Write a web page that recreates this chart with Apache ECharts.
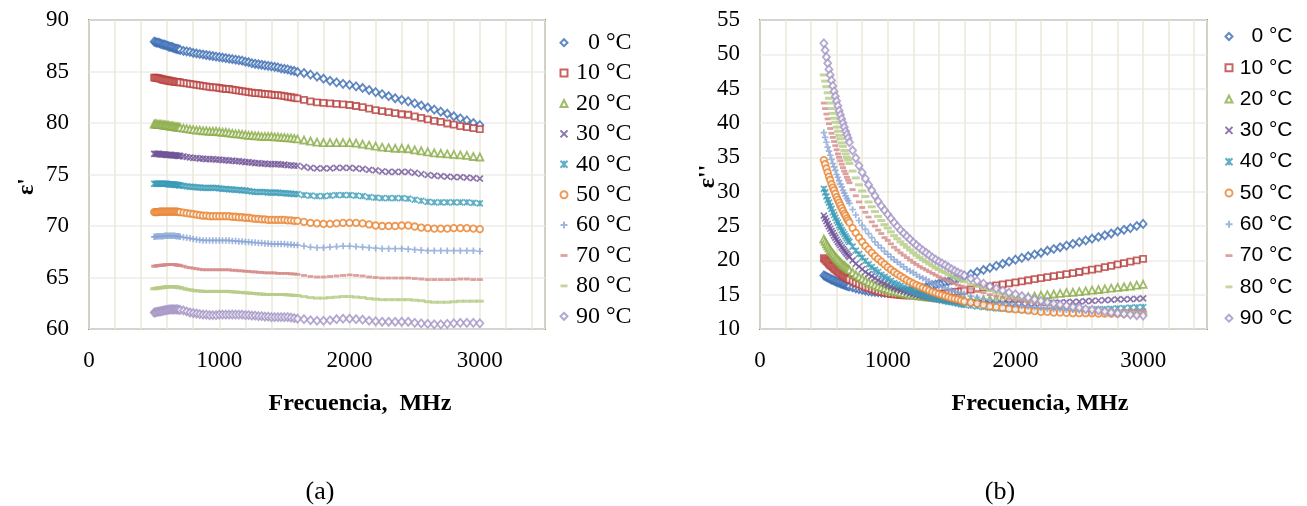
<!DOCTYPE html>
<html><head><meta charset="utf-8">
<script src="https://cdn.jsdelivr.net/npm/echarts@6/dist/echarts.min.js"></script>
<style>
html,body{margin:0;padding:0;background:#fff;width:1307px;height:506px;overflow:hidden}
#a{position:absolute;left:0;top:0;width:654px;height:506px}
#b{position:absolute;left:653px;top:0;width:654px;height:506px}
</style>
</head><body><div id="a"></div><div id="b"></div>
<script>
const freq = [500,510,520,530,540,550,560,570,580,590,600,610,620,630,640,650,660,670,680,690,700,
  725,750,775,800,825,850,875,900,925,950,975,1000,
  1025,1050,1075,1100,1125,1150,1175,1200,1225,1250,1275,1300,1325,1350,1375,1400,1425,1450,1475,1500,1525,1550,1575,1600,
  1650,1700,1750,1800,1850,1900,1950,2000,
  2050,2100,2150,2200,2250,2300,2350,2400,2450,2500,
  2550,2600,2650,2700,2750,2800,2850,2900,2950,3000];

const seriesNames = ['0 °C','10 °C','20 °C','30 °C','40 °C','50 °C','60 °C','70 °C','80 °C','90 °C'];
const xTicks = [0,1000,2000,3000];

// (a) ε'
const real0C = [87.9,87.85,87.8,87.8,87.75,87.7,87.65,87.6,87.6,87.55,87.5,87.45,87.4,87.4,87.35,87.3,87.25,87.2,87.2,87.15,87.1, 87.0,86.95,86.9,86.8,86.75,86.7,86.65,86.6,86.55,86.5,86.45,86.4,
  86.35,86.3,86.25,86.2,86.15,86.1,86.05,85.95,85.9,85.8,85.75,85.7,85.65,85.6,85.55,85.5,85.45,85.4,85.3,85.25,85.2,85.1,85.05,84.95,
  84.85,84.7,84.5,84.3,84.1,83.95,83.8,83.7, 83.55,83.4,83.2,83.0,82.8,82.6,82.4,82.25,82.1,81.9, 81.7,81.5,81.3,81.1,80.9,80.65,80.45,80.25,80.0,79.8];
const real10C = [84.4,84.4,84.35,84.35,84.3,84.3,84.25,84.2,84.2,84.15,84.15,84.1,84.1,84.05,84.05,84.05,84.0,84.0,84.0,83.95,83.95, 83.9,83.85,83.8,83.75,83.7,83.65,83.6,83.55,83.5,83.45,83.45,83.4,
  83.35,83.3,83.3,83.25,83.2,83.15,83.1,83.05,83.0,82.95,82.9,82.9,82.85,82.8,82.8,82.75,82.7,82.7,82.65,82.6,82.55,82.5,82.45,82.4,
  82.25,82.1,82.0,81.95,81.9,81.85,81.8,81.75, 81.65,81.55,81.4,81.25,81.15,81.05,80.95,80.85,80.8,80.65, 80.5,80.35,80.2,80.1,79.95,79.85,79.7,79.6,79.5,79.4];
const real20C = [79.9,79.9,79.9,79.85,79.85,79.85,79.85,79.8,79.8,79.8,79.75,79.75,79.7,79.7,79.7,79.65,79.65,79.6,79.6,79.6,79.55, 79.5,79.45,79.4,79.35,79.3,79.3,79.25,79.25,79.2,79.2,79.2,79.15,
  79.1,79.1,79.05,79.0,78.95,78.95,78.9,78.85,78.8,78.8,78.75,78.75,78.7,78.7,78.7,78.7,78.65,78.65,78.6,78.6,78.55,78.55,78.5,78.45,
  78.35,78.25,78.15,78.1,78.1,78.1,78.1,78.1, 78.05,77.95,77.85,77.75,77.65,77.6,77.55,77.55,77.5,77.4, 77.3,77.2,77.1,77.05,77.0,76.95,76.9,76.85,76.75,76.7];
const real30C = [77.0,77.0,77.0,77.0,77.0,76.95,76.95,76.95,76.95,76.9,76.9,76.9,76.9,76.9,76.85,76.85,76.85,76.85,76.8,76.8,76.8, 76.75,76.7,76.65,76.6,76.6,76.55,76.55,76.5,76.5,76.5,76.45,76.45,
  76.4,76.4,76.35,76.35,76.3,76.3,76.25,76.2,76.2,76.15,76.1,76.1,76.05,76.05,76.0,76.0,76.0,76.0,75.95,75.95,75.9,75.9,75.85,75.85,
  75.75,75.65,75.6,75.6,75.6,75.65,75.65,75.65, 75.6,75.55,75.45,75.4,75.3,75.25,75.25,75.25,75.25,75.15, 75.05,74.95,74.9,74.85,74.8,74.75,74.75,74.7,74.65,74.6];
const real40C = [74.1,74.1,74.1,74.1,74.1,74.1,74.1,74.1,74.1,74.1,74.1,74.05,74.05,74.05,74.05,74.05,74.0,74.0,74.0,73.95,73.95, 73.9,73.85,73.8,73.8,73.75,73.75,73.7,73.7,73.7,73.7,73.7,73.65,
  73.6,73.6,73.55,73.55,73.5,73.5,73.45,73.45,73.4,73.35,73.3,73.3,73.3,73.3,73.25,73.25,73.25,73.25,73.2,73.2,73.15,73.15,73.1,73.1,
  73.0,72.95,72.9,72.9,72.95,73.0,73.0,73.0, 72.95,72.9,72.8,72.75,72.7,72.7,72.7,72.7,72.65,72.55, 72.45,72.35,72.3,72.3,72.3,72.3,72.3,72.3,72.25,72.2];
const real50C = [71.35,71.35,71.35,71.35,71.4,71.4,71.4,71.4,71.4,71.4,71.4,71.4,71.4,71.4,71.4,71.4,71.4,71.4,71.4,71.35,71.35, 71.3,71.25,71.2,71.15,71.1,71.05,71.0,71.0,70.95,70.95,70.95,70.95,
  70.95,70.95,70.95,70.9,70.9,70.85,70.85,70.8,70.8,70.75,70.7,70.7,70.65,70.65,70.6,70.6,70.6,70.6,70.6,70.6,70.55,70.55,70.5,70.5,
  70.4,70.3,70.25,70.2,70.2,70.25,70.3,70.3, 70.3,70.25,70.15,70.05,70.0,70.0,70.0,70.05,70.05,69.95, 69.85,69.8,69.75,69.75,69.75,69.8,69.8,69.8,69.75,69.7];
const real60C = [68.95,68.95,69.0,69.0,69.0,69.0,69.0,69.0,69.05,69.05,69.05,69.05,69.05,69.05,69.05,69.05,69.05,69.0,69.0,69.0,68.95, 68.9,68.85,68.8,68.75,68.7,68.65,68.6,68.6,68.6,68.6,68.6,68.6,
  68.6,68.6,68.6,68.55,68.55,68.5,68.5,68.45,68.45,68.4,68.4,68.35,68.35,68.3,68.3,68.25,68.25,68.25,68.25,68.25,68.2,68.2,68.15,68.15,
  68.05,67.95,67.9,67.9,67.95,68.0,68.05,68.05, 68.0,67.95,67.9,67.85,67.8,67.8,67.8,67.8,67.75,67.7, 67.65,67.6,67.6,67.6,67.6,67.6,67.6,67.6,67.6,67.55];
const real70C = [66.1,66.1,66.15,66.15,66.15,66.2,66.2,66.2,66.2,66.25,66.25,66.25,66.25,66.25,66.25,66.25,66.25,66.2,66.2,66.2,66.15, 66.1,66.0,65.95,65.9,65.85,65.8,65.75,65.75,65.75,65.75,65.75,65.75,
  65.75,65.75,65.75,65.7,65.7,65.65,65.65,65.6,65.6,65.55,65.55,65.5,65.5,65.45,65.45,65.45,65.45,65.4,65.4,65.4,65.4,65.35,65.35,65.3,
  65.2,65.1,65.05,65.05,65.1,65.15,65.2,65.25, 65.2,65.15,65.05,65.0,64.95,64.95,64.95,64.95,64.95,64.9, 64.85,64.8,64.8,64.8,64.8,64.8,64.85,64.85,64.8,64.8];
const real80C = [63.9,63.92,63.95,63.97,64.0,64.0,64.02,64.05,64.05,64.07,64.1,64.1,64.1,64.1,64.1,64.1,64.1,64.08,64.05,64.02,64.0, 63.95,63.85,63.8,63.75,63.7,63.7,63.65,63.65,63.65,63.65,63.65,63.65,
  63.65,63.65,63.65,63.6,63.6,63.55,63.55,63.5,63.5,63.45,63.45,63.4,63.4,63.35,63.35,63.35,63.35,63.35,63.35,63.35,63.3,63.3,63.25,63.25,
  63.15,63.05,63.0,63.0,63.05,63.1,63.15,63.15, 63.1,63.05,62.95,62.9,62.85,62.85,62.85,62.85,62.85,62.8, 62.75,62.65,62.6,62.6,62.6,62.65,62.7,62.7,62.7,62.7];
const real90C = [61.6,61.62,61.65,61.68,61.7,61.72,61.75,61.78,61.8,61.83,61.85,61.87,61.9,61.9,61.9,61.9,61.9,61.9,61.9,61.87,61.85, 61.8,61.7,61.6,61.55,61.5,61.45,61.4,61.4,61.35,61.35,61.35,61.4,
  61.4,61.4,61.4,61.4,61.4,61.4,61.4,61.35,61.35,61.3,61.3,61.25,61.25,61.2,61.2,61.15,61.15,61.15,61.15,61.15,61.15,61.1,61.05,61.0,
  60.95,60.85,60.8,60.8,60.85,60.95,61.0,61.0, 60.95,60.9,60.8,60.75,60.7,60.7,60.7,60.7,60.7,60.6, 60.55,60.5,60.45,60.45,60.5,60.55,60.6,60.6,60.6,60.55];

// (b) ε''
const loss0C = [17.8,17.7,17.6,17.5,17.4,17.3,17.2,17.15,17.05,16.95,16.9,16.8,16.75,16.65,16.6,16.5,16.45,16.4,16.3,16.25,16.2, 16.05,15.9,15.8,15.7,15.6,15.5,15.45,15.4,15.35,15.3,15.3,15.3,
  15.3,15.3,15.35,15.4,15.45,15.5,15.55,15.65,15.75,15.85,15.95,16.1,16.2,16.35,16.45,16.6,16.7,16.85,16.95,17.1,17.25,17.4,17.55,17.7,
  18.0,18.3,18.6,18.9,19.2,19.5,19.8,20.1, 20.35,20.6,20.85,21.1,21.4,21.65,21.9,22.15,22.4,22.65, 22.9,23.15,23.4,23.65,23.9,24.2,24.45,24.7,25.0,25.3];
const loss10C = [20.3,20.1,19.9,19.7,19.5,19.3,19.15,19.0,18.8,18.65,18.5,18.35,18.2,18.05,17.9,17.8,17.65,17.55,17.4,17.3,17.2, 16.95,16.7,16.5,16.3,16.1,15.95,15.8,15.65,15.5,15.4,15.3,15.2,
  15.1,15.05,15.0,14.95,14.9,14.9,14.9,14.9,14.9,14.9,14.9,14.95,14.95,15.0,15.05,15.1,15.15,15.2,15.25,15.3,15.4,15.45,15.5,15.6,
  15.75,15.9,16.05,16.2,16.35,16.5,16.65,16.8, 16.95,17.1,17.25,17.4,17.55,17.7,17.85,18.0,18.15,18.3, 18.5,18.65,18.8,19.0,19.2,19.4,19.6,19.8,20.0,20.2];
const loss20C = [23.1,22.75,22.4,22.1,21.8,21.5,21.25,21.0,20.75,20.5,20.3,20.1,19.9,19.7,19.5,19.35,19.2,19.05,18.9,18.75,18.6, 18.25,17.9,17.6,17.3,17.05,16.8,16.6,16.4,16.2,16.05,15.9,15.75,
  15.6,15.5,15.4,15.3,15.2,15.1,15.0,14.95,14.85,14.8,14.75,14.7,14.65,14.6,14.55,14.5,14.5,14.45,14.4,14.4,14.35,14.35,14.3,14.3,
  14.3,14.3,14.3,14.3,14.35,14.4,14.45,14.5, 14.6,14.7,14.8,14.9,15.0,15.1,15.2,15.3,15.35,15.45, 15.55,15.65,15.75,15.85,15.95,16.05,16.15,16.25,16.4,16.5];
const loss30C = [26.5,26.1,25.7,25.3,24.95,24.6,24.25,23.95,23.6,23.3,23.0,22.7,22.45,22.2,21.9,21.65,21.4,21.15,20.95,20.7,20.5, 20.0,19.5,19.1,18.7,18.3,18.0,17.7,17.4,17.1,16.85,16.6,16.4,
  16.2,16.0,15.8,15.65,15.5,15.35,15.2,15.1,14.95,14.85,14.75,14.65,14.55,14.5,14.4,14.35,14.25,14.2,14.15,14.1,14.05,14.0,13.95,13.9,
  13.85,13.8,13.75,13.7,13.7,13.7,13.7,13.7, 13.7,13.7,13.7,13.75,13.8,13.8,13.85,13.9,13.95,14.0, 14.05,14.1,14.15,14.2,14.25,14.3,14.3,14.35,14.4,14.45];
const loss40C = [30.4,29.9,29.3,28.8,28.4,27.9,27.5,27.0,26.6,26.2,25.8,25.5,25.1,24.8,24.4,24.1,23.8,23.5,23.2,22.9,22.7, 22.0,21.4,20.9,20.4,19.9,19.4,19.0,18.6,18.3,17.9,17.6,17.3,
  17.0,16.7,16.5,16.3,16.05,15.8,15.6,15.4,15.25,15.1,14.95,14.8,14.65,14.5,14.4,14.3,14.15,14.05,13.95,13.9,13.8,13.7,13.6,13.5,
  13.4,13.3,13.2,13.1,13.0,12.95,12.9,12.85, 12.8,12.76,12.74,12.73,12.72,12.72,12.73,12.74,12.76,12.78, 12.8,12.83,12.86,12.9,12.94,13.0,13.04,13.1,13.15,13.2];
const loss50C = [34.6,34.0,33.4,32.8,32.2,31.7,31.1,30.6,30.2,29.7,29.2,28.8,28.4,28.0,27.6,27.2,26.8,26.5,26.1,25.8,25.5, 24.7,24.0,23.3,22.7,22.1,21.6,21.1,20.6,20.2,19.8,19.4,19.0,
  18.65,18.3,18.0,17.7,17.4,17.1,16.85,16.6,16.4,16.2,16.0,15.8,15.6,15.4,15.25,15.1,14.95,14.8,14.65,14.5,14.4,14.3,14.15,14.0,
  13.85,13.7,13.5,13.3,13.2,13.1,12.95,12.85, 12.8,12.7,12.6,12.5,12.5,12.4,12.4,12.35,12.3,12.3, 12.3,12.3,12.25,12.25,12.25,12.25,12.25,12.3,12.3,12.3];
const loss60C = [38.6,37.9,37.2,36.5,35.9,35.3,34.7,34.1,33.6,33.1,32.5,32.1,31.6,31.1,30.7,30.2,29.8,29.4,29.0,28.7,28.3, 27.4,26.6,25.8,25.1,24.5,23.9,23.3,22.7,22.2,21.8,21.3,20.9,
  20.5,20.1,19.75,19.4,19.05,18.7,18.45,18.2,17.9,17.6,17.4,17.2,16.95,16.7,16.5,16.3,16.15,16.0,15.8,15.6,15.45,15.3,15.2,15.1,
  14.8,14.6,14.4,14.2,14.0,13.8,13.7,13.6, 13.4,13.3,13.2,13.1,13.0,13.0,12.9,12.8,12.8,12.7, 12.7,12.6,12.6,12.6,12.55,12.5,12.5,12.5,12.5,12.5];
const loss70C = [42.9,42.1,41.3,40.6,39.9,39.2,38.5,37.9,37.3,36.7,36.1,35.5,35.0,34.5,34.0,33.5,33.0,32.6,32.1,31.7,31.3, 30.3,29.4,28.5,27.7,27.0,26.3,25.6,25.0,24.4,23.9,23.3,22.9,
  22.4,21.9,21.5,21.1,20.75,20.4,20.05,19.7,19.4,19.1,18.85,18.6,18.35,18.1,17.85,17.6,17.4,17.2,17.0,16.8,16.6,16.4,16.25,16.1,
  15.8,15.5,15.3,15.0,14.8,14.6,14.4,14.2, 14.1,13.9,13.8,13.65,13.5,13.4,13.3,13.2,13.15,13.1, 13.0,12.9,12.9,12.8,12.8,12.7,12.7,12.65,12.6,12.6];
const loss80C = [47.0,46.1,45.3,44.4,43.6,42.9,42.1,41.4,40.7,40.1,39.4,38.8,38.2,37.7,37.1,36.6,36.0,35.5,35.0,34.6,34.1, 33.0,32.0,31.0,30.1,29.3,28.5,27.8,27.1,26.4,25.8,25.2,24.7,
  24.15,23.6,23.15,22.7,22.3,21.9,21.5,21.1,20.75,20.4,20.1,19.8,19.5,19.2,18.9,18.65,18.4,18.2,17.95,17.7,17.5,17.3,17.1,16.9,
  16.5,16.2,15.9,15.6,15.3,15.1,14.85,14.6, 14.4,14.2,14.05,13.9,13.7,13.6,13.45,13.3,13.2,13.1, 13.0,12.9,12.8,12.7,12.6,12.55,12.5,12.4,12.35,12.3];
const loss90C = [51.6,50.6,49.6,48.7,47.8,47.0,46.2,45.4,44.6,43.9,43.2,42.5,41.8,41.2,40.6,40.0,39.4,38.8,38.3,37.8,37.2, 36.0,34.9,33.8,32.8,31.9,31.0,30.2,29.4,28.6,27.9,27.3,26.7,
  26.1,25.5,24.95,24.4,23.95,23.5,23.05,22.6,22.2,21.8,21.45,21.1,20.75,20.4,20.1,19.8,19.55,19.3,19.0,18.7,18.45,18.2,18.0,17.8,
  17.35,17.0,16.6,16.2,15.9,15.6,15.3,15.05, 14.8,14.55,14.3,14.1,13.9,13.7,13.55,13.4,13.2,13.1, 12.9,12.8,12.7,12.55,12.4,12.3,12.2,12.1,12.0,11.95];

const realSets = [real0C,real10C,real20C,real30C,real40C,real50C,real60C,real70C,real80C,real90C];
const lossSets = [loss0C,loss10C,loss20C,loss30C,loss40C,loss50C,loss60C,loss70C,loss80C,loss90C];

const colors = ['#3B6CB3','#B8403D','#88AB45','#6E5297','#3A9BB6','#E98230','#87A4D6','#D58A88','#B5CC86','#A393C4'];
const P_X = 'path://M0,0L10,10M10,0L0,10';
const P_STAR = 'path://M0,0L10,10M10,0L0,10M5,0L5,10';
const P_PLUS = 'path://M5,0L5,10M0,5L10,5';
const P_DASH = 'path://M0,0L10,0L10,4L0,4Z';
const markers = [
  {symbol:'diamond', size:[7,8], kind:'hollow'},
  {symbol:'rect', size:6, kind:'hollow'},
  {symbol:'triangle', size:7, kind:'hollow'},
  {symbol:P_X, size:6, kind:'stroke'},
  {symbol:P_STAR, size:6, kind:'stroke'},
  {symbol:'circle', size:6.5, kind:'hollow'},
  {symbol:P_PLUS, size:6.5, kind:'stroke'},
  {symbol:P_DASH, size:[6,2.8], kind:'fill'},
  {symbol:P_DASH, size:[8,3], kind:'fill'},
  {symbol:'diamond', size:[7,8], kind:'hollow'}
];

const SERIF = '"Liberation Serif","Times New Roman",serif';
const SANS = '"Liberation Sans",Arial,sans-serif';

function buildSeries(sets) {
  return sets.map((vals, i) => {
    const m = markers[i], c = colors[i];
    let itemStyle;
    if (m.kind === 'hollow') itemStyle = {color:'#ffffff', borderColor:c, borderWidth:1.8};
    else if (m.kind === 'stroke') itemStyle = {color:'rgba(255,255,255,0)', borderColor:c, borderWidth:1.7};
    else itemStyle = {color:c};
    return {
      type:'scatter', name: seriesNames[i],
      data: freq.map((f, k) => [f, vals[k]]),
      symbol: m.symbol, symbolSize: m.size, symbolKeepAspect:false,
      itemStyle, emphasis:{disabled:true}, silent:true, animation:false
    };
  });
}

function makeOption(o) {
  return {
    animation:false,
    backgroundColor:'#ffffff',
    grid:{left:o.gl, top:20, width:o.gw, height:309, show:true, borderColor:'#8A8A8A', borderWidth:2, backgroundColor:'#ffffff'},
    legend:{
      orient:'vertical', left:o.lx, top:o.ly, padding:0, itemGap:o.lgap,
      itemWidth:7, itemHeight:7, selectedMode:false, data: seriesNames,
      formatter: n => '{t|' + n + '}',
      textStyle:{rich:{t:{width:o.lw, align:'right', fontFamily:o.lfont, fontSize:o.lsize, lineHeight:o.lh, color:'#000'}}}
    },
    xAxis:{
      type:'value', min:0, max:3500, interval:200,
      axisLine:{show:false}, axisTick:{show:false},
      axisLabel:{formatter: v => xTicks.indexOf(v) >= 0 ? String(v) : '', margin:20, fontFamily:SERIF, fontSize:23, color:'#000'},
      splitLine:{show:true, lineStyle:{color:'#ECE7D6', width:1.5}},
      name:o.xname, nameLocation:'middle', nameGap:63, nameMoveOverlap:false,
      nameTextStyle:{fontFamily:SERIF, fontWeight:'bold', fontSize:24, color:'#000', padding:[0,0,0,o.xpad]}
    },
    yAxis:{
      type:'value', min:o.ymin, max:o.ymax, interval:5,
      axisLine:{show:false}, axisTick:{show:false},
      axisLabel:{margin:20, fontFamily:SERIF, fontSize:23, color:'#000'},
      splitLine:{show:true, lineStyle:{color:'#EDEDEA', width:1.5}},
      name:o.yname, nameLocation:'middle', nameRotate:90, nameGap:o.ygap, nameMoveOverlap:false,
      nameTextStyle:{fontFamily:SERIF, fontWeight:'bold', fontSize:24, color:'#000', padding:o.ypad}
    },
    graphic:[{type:'text', x:o.capx, y:492, style:{text:o.cap, font:'26px ' + SERIF, fill:'#000', align:'center', verticalAlign:'middle'}}],
    series: buildSeries(o.sets)
  };
}

const chartA = echarts.init(document.getElementById('a'), null, {renderer:'canvas'});
chartA.setOption(makeOption({
  gl:89, gw:456, lx:559.5, ly:30.7, lgap:6.4, lw:59, lfont:SERIF, lsize:24, lh:24,
  xname:'Frecuencia,  MHz', xpad:86, ymin:60, ymax:90, yname:"ε'", ygap:50, ypad:[0,24,0,0],
  capx:320, cap:'(a)', sets:realSets
}));

const chartB = echarts.init(document.getElementById('b'), null, {renderer:'canvas'});
chartB.setOption(makeOption({
  gl:107, gw:447, lx:571.5, ly:26, lgap:10.3, lw:55, lfont:SANS, lsize:21, lh:22,
  xname:'Frecuencia, MHz', xpad:113, ymin:10, ymax:55, yname:"ε''", ygap:40, ypad:[0,4,0,0],
  capx:347, cap:'(b)', sets:lossSets
}));
</script></body></html>
